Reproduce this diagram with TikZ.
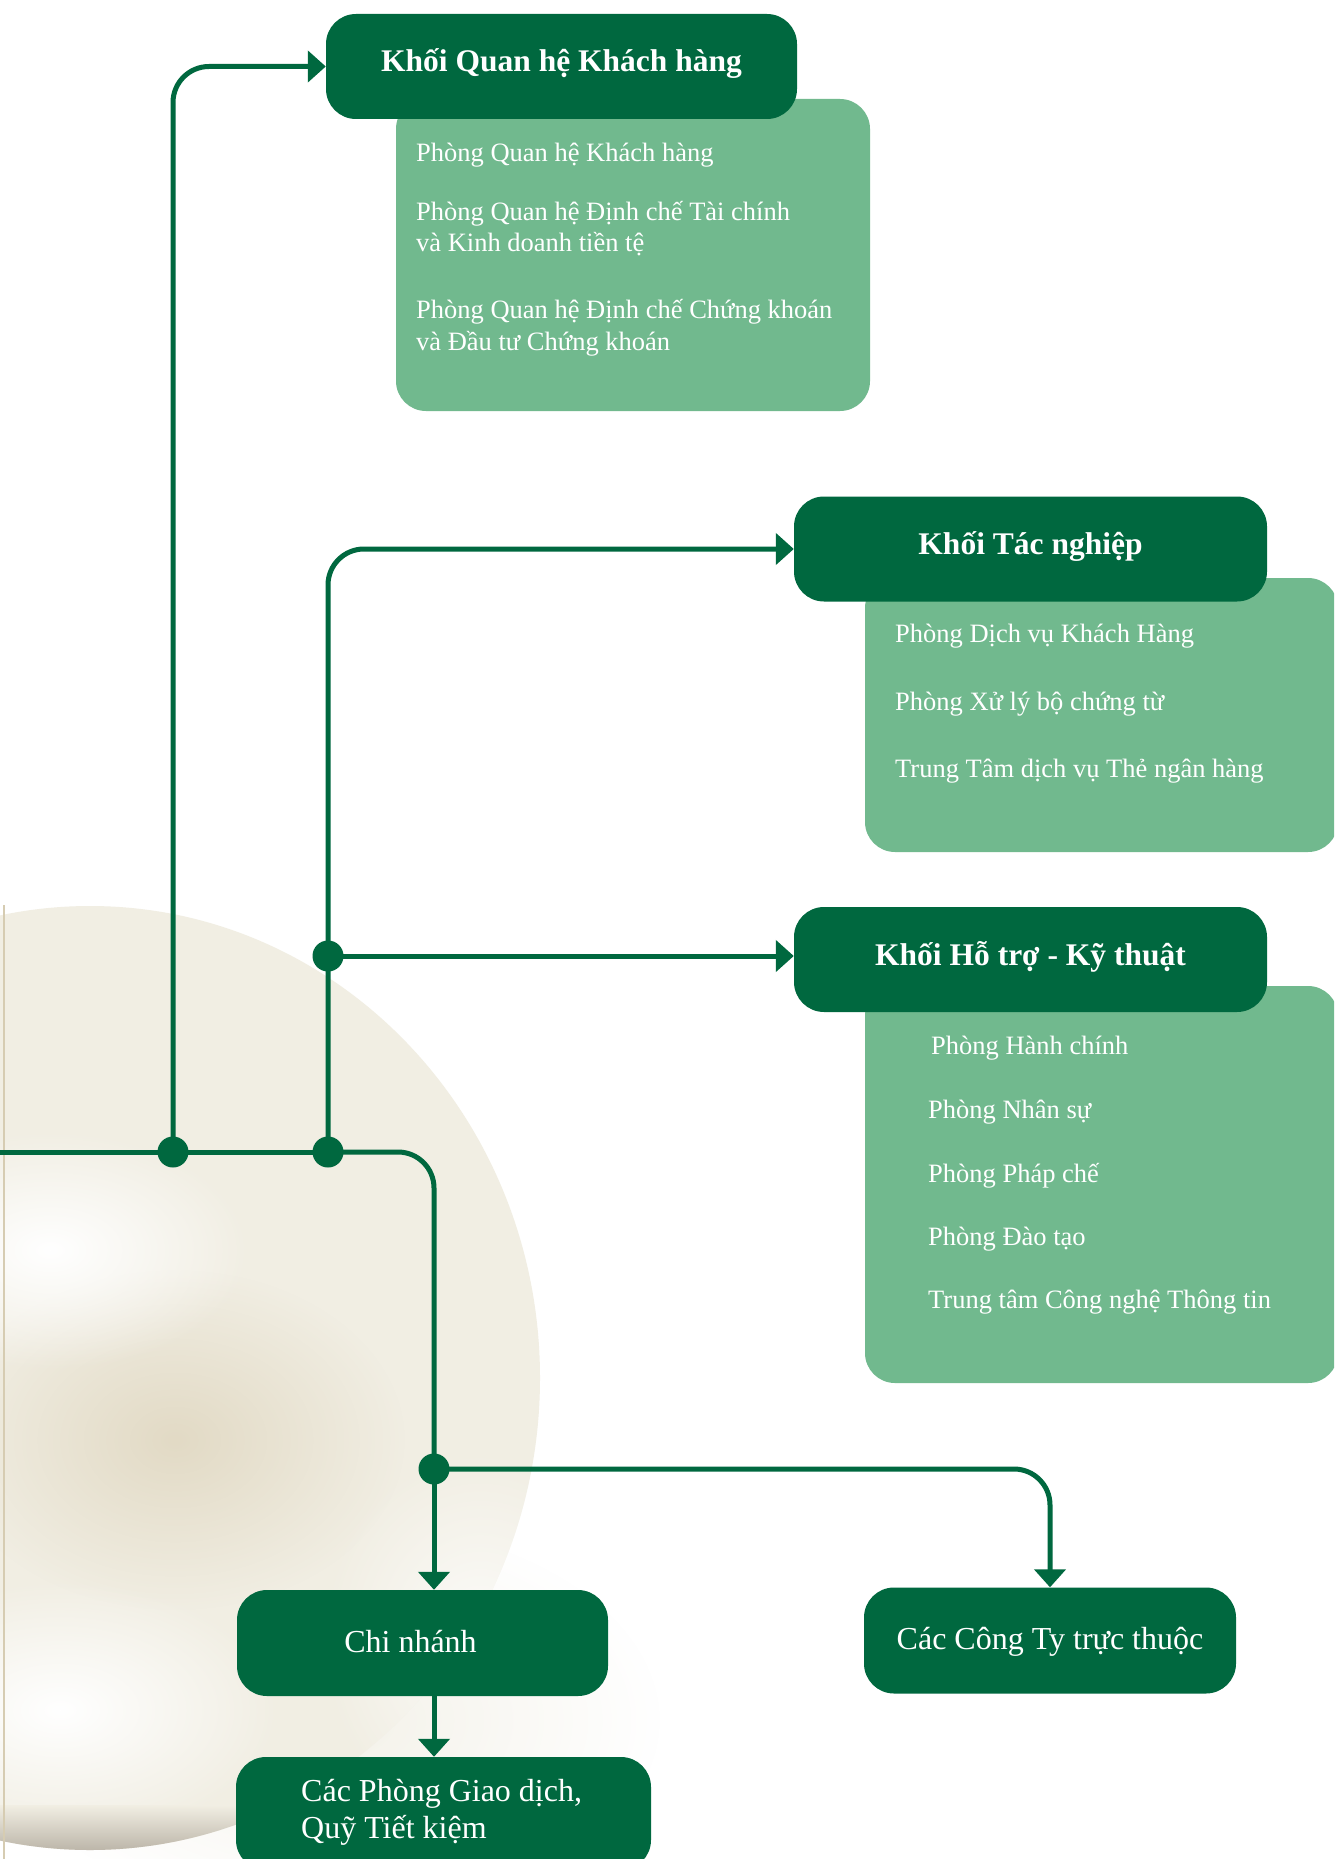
\documentclass[tikz,border=0pt]{standalone}
\usepackage{fontspec}
\setmainfont{Liberation Serif}
\usetikzlibrary{arrows.meta,fadings}
\definecolor{dg}{RGB}{0,104,63}
\definecolor{lg}{RGB}{113,185,142}
\definecolor{plate}{RGB}{241,238,227}
\definecolor{platedark}{RGB}{226,218,197}
\definecolor{rim}{RGB}{214,204,178}
\definecolor{bottomgray}{RGB}{178,171,158}
\tikzfading[name=softglow, inner color=transparent!0, outer color=transparent!100]
\begin{document}
\begin{tikzpicture}[x=1pt,y=-1pt,
  hdr/.style={draw=none, fill=dg, rounded corners=30pt, minimum height=105pt, inner sep=0pt,
    text=white, font=\fontsize{31.5}{38}\selectfont\bfseries, text height=18pt, text depth=7pt},
  leafbox/.style={draw=none, fill=dg, rounded corners=30pt, minimum height=106pt, inner sep=0pt,
    text=white, font=\fontsize{32}{38}\selectfont, text height=24pt, text depth=6pt},
  subbox/.style={draw=none, fill=lg, rounded corners=30pt, inner sep=0pt},
  item/.style={anchor=base west, inner sep=0pt, text=white, font=\fontsize{26.5}{31}\selectfont},
  leaftext/.style={anchor=base west, inner sep=0pt, text=white, font=\fontsize{32}{37}\selectfont},
  conn/.style={draw=dg, line width=5pt},
  arr/.style={conn, -{Triangle[length=18pt,width=31pt]}},
  jdot/.style={circle, fill=dg, draw=none, inner sep=0pt, minimum size=31pt},
  glow/.style={path fading=softglow}]
\clip (0,0) rectangle (1334,1859);
\fill[white] (0,0) rectangle (1334,1859);
% background plate
\fill[plate, glow, opacity=0.8] (330,1720) ellipse (330pt and 200pt);
\begin{scope}
  \clip (90,1378) ellipse (450pt and 472pt);
  \fill[plate] (0,850) rectangle (600,1859);
  \fill[platedark, glow] (175,1440) ellipse (230pt and 170pt);
  \fill[white, glow] (50,1250) ellipse (200pt and 120pt);
  \fill[white, glow] (60,1710) ellipse (220pt and 130pt);
  \fill[white, glow, opacity=0.8] (480,1640) ellipse (160pt and 190pt);
  \shade[top color=plate, bottom color=bottomgray] (0,1805) rectangle (300,1859);
\end{scope}
\draw[rim, line width=2.5pt] (4,905) -- (4,1859);

% boxes
\node[subbox, minimum width=474pt, minimum height=312pt] (kqhsub) at (633,255) {};
\node[hdr, minimum width=471pt] (kqh) at (561.5,66.5) {Khối Quan hệ Khách hàng};
\node[subbox, minimum width=473pt, minimum height=274pt] (ktnsub) at (1101.5,715) {};
\node[hdr, minimum width=473pt] (ktn) at (1030.5,549) {Khối Tác nghiệp};
\node[subbox, minimum width=473pt, minimum height=397pt] (khtsub) at (1101.5,1184.5) {};
\node[hdr, minimum width=473pt] (kht) at (1030.5,959.5) {Khối Hỗ trợ - Kỹ thuật};
\node[leafbox, minimum width=371pt] (cn) at (422.5,1643) {Chi nhánh\hspace*{24pt}};
\node[leafbox, minimum width=372pt] (ct) at (1050,1640.5) {Các Công Ty trực thuộc};
\node[leafbox, minimum width=415pt, minimum height=113pt] (cp) at (443.5,1813.5) {};
\node[leaftext] (cp1) at (301,1801) {Các Phòng Giao dịch,};
\node[leaftext] (cp2) at (301,1838) {Quỹ Tiết kiệm};

% items
\node[item] (a1) at (416,162) {Phòng Quan hệ Khách hàng};
\node[item] (a2) at (416,221) {Phòng Quan hệ Định chế Tài chính};
\node[item] (a3) at (416,252) {và Kinh doanh tiền tệ};
\node[item] (a4) at (416,319) {Phòng Quan hệ Định chế Chứng khoán};
\node[item] (a5) at (416,350) {và Đầu tư Chứng khoán};
\node[item] (b1) at (895,642) {Phòng Dịch vụ Khách Hàng};
\node[item] (b2) at (895,710) {Phòng Xử lý bộ chứng từ};
\node[item] (b3) at (895,777) {Trung Tâm dịch vụ Thẻ ngân hàng};
\node[item] (c1) at (931,1054) {Phòng Hành chính};
\node[item] (c2) at (928,1118) {Phòng Nhân sự};
\node[item] (c3) at (928,1182) {Phòng Pháp chế};
\node[item] (c4) at (928,1245) {Phòng Đào tạo};
\node[item] (c5) at (928,1308) {Trung tâm Công nghệ Thông tin};

% junctions
\coordinate (start) at (0,1152);
\coordinate (j1) at (173,1152);
\coordinate (j2) at (328,1152);
\coordinate (j3) at (434,1469);
\coordinate (j4) at (328,956);

% connectors
\draw[conn] (start) -- (j1) -- (j2);
\draw[conn, rounded corners=36pt] (j2) -| (j3);
\draw[arr, rounded corners=36pt] (j1) |- (kqh.west);
\draw[arr, rounded corners=36pt] (j2) |- (ktn.west);
\draw[arr] (j4) -- (j4 -| kht.west);
\draw[arr] (j3) -- (j3 |- cn.north);
\draw[arr, rounded corners=36pt] (j3) -| (ct.north);
\draw[arr] (cn.south -| j3) -- (cp.north -| j3);

\node[jdot] (d1) at (j1) {};
\node[jdot] (d2) at (j2) {};
\node[jdot] (d3) at (j3) {};
\node[jdot] (d4) at (j4) {};
\end{tikzpicture}
\end{document}
